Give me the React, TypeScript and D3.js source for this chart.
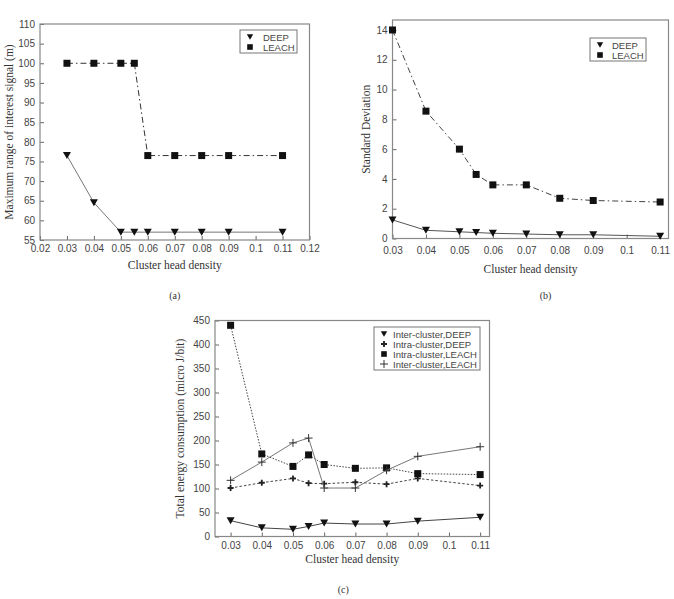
import React, { useEffect, useRef } from "react";
import * as d3 from "d3";

// cluster head density (x values shared by all panels)
const density = [0.03, 0.04, 0.05, 0.055, 0.06, 0.07, 0.08, 0.09, 0.11];

// (a) maximum range of interest signal
const rangeDeep = [76.5, 64.5, 57, 57, 57, 57, 57, 57, 57];
const rangeLeach = [100, 100, 100, 100, 76.5, 76.5, 76.5, 76.5, 76.5];

// (b) standard deviation
const stdDeep = [1.25, 0.55, 0.45, 0.4, 0.35, 0.3, 0.25, 0.25, 0.15];
const stdLeach = [14, 8.55, 6.0, 4.3, 3.6, 3.6, 2.7, 2.55, 2.45];

// (c) total energy consumption
const interDeep = [33, 18, 15, 21, 28, 26, 26, 32, 40];
const intraDeep = [101, 112, 121, 111, 110, 113, 109, 121, 106];
const intraLeach = [440, 172, 146, 170, 150, 142, 143, 131, 129];
const interLeach = [117, 155, 195, 205, 101, 101, 138, 167, 187];

const xTicksA = [0.02, 0.03, 0.04, 0.05, 0.06, 0.07, 0.08, 0.09, 0.1, 0.11, 0.12];
const xTicksBC = [0.03, 0.04, 0.05, 0.06, 0.07, 0.08, 0.09, 0.1, 0.11];
const yTicksA = d3.range(55, 111, 5);
const yTicksB = d3.range(0, 15, 2);
const yTicksC = d3.range(0, 451, 50);

const SANS = "Liberation Sans, Arial, sans-serif";
const SERIF = "Liberation Serif, Times New Roman, serif";

const drawMarker = (g, type, x, y, k = 1) => {
  if (type === "tri") {
    g.append("path")
      .attr("d", `M${x - 4 * k},${y - 3.5 * k}L${x + 4 * k},${y - 3.5 * k}L${x},${y + 3.5 * k}Z`)
      .attr("fill", "#111");
  } else if (type === "sq") {
    g.append("rect")
      .attr("x", x - 3.5 * k).attr("y", y - 3.5 * k)
      .attr("width", 7 * k).attr("height", 7 * k)
      .attr("fill", "#111");
  } else if (type === "star") {
    g.append("path")
      .attr("d", `M${x - 3},${y}H${x + 3}M${x},${y - 3}V${y + 3}`)
      .attr("stroke", "#222").attr("stroke-width", 1.8);
  } else if (type === "plus") {
    g.append("path")
      .attr("d", `M${x - 4},${y}H${x + 4}M${x},${y - 4}V${y + 4}`)
      .attr("stroke", "#333").attr("stroke-width", 1);
  }
};

const Panel = ({ box, xDomain, yDomain, xTicks, yTicks, xTickY, series, legend, yLabel, yLabelX, xLabelY, caption, captionY }) => {
  const ref = useRef();

  useEffect(() => {
    const g = d3.select(ref.current);
    g.selectAll("*").remove();
    const [left, top, right, bottom] = box;

    const x = d3.scaleLinear().domain(xDomain).range([left, right]);
    const y = d3.scaleLinear().domain(yDomain).range([bottom, top]);

    // ticks inside the box, matlab style
    g.append("g")
      .attr("transform", `translate(0,${bottom})`)
      .call(d3.axisBottom(x).tickValues(xTicks).tickSizeInner(-4).tickSizeOuter(0)
        .tickFormat((d) => String(+d.toFixed(3))))
      .call((a) => a.select(".domain").remove())
      .call((a) => a.selectAll("line").attr("stroke", "#666").attr("y1", 0).attr("y2", -4))
      .call((a) => a.selectAll("text").attr("y", xTickY).attr("font-family", SANS).attr("font-size", 10).attr("fill", "#444"));

    g.append("g")
      .attr("transform", `translate(${left},0)`)
      .call(d3.axisLeft(y).tickValues(yTicks).tickSizeInner(-4).tickSizeOuter(0))
      .call((a) => a.select(".domain").remove())
      .call((a) => a.selectAll("line").attr("stroke", "#666"))
      .call((a) => a.selectAll("text").attr("x", -5).attr("font-family", SANS).attr("font-size", 10).attr("fill", "#444"));

    g.append("rect")
      .attr("x", left).attr("y", top)
      .attr("width", right - left).attr("height", bottom - top)
      .attr("fill", "none").attr("stroke", "#888").attr("stroke-width", 1.2);

    const line = d3.line().x((d) => x(d[0])).y((d) => y(d[1]));

    series.forEach((s) => {
      const pts = density.map((d, i) => [d, s.values[i]]);
      g.append("path")
        .datum(pts)
        .attr("d", line)
        .attr("fill", "none")
        .attr("stroke", s.color)
        .attr("stroke-width", 1)
        .attr("stroke-dasharray", s.dash || null);
      pts.forEach((p) => drawMarker(g, s.marker, x(p[0]), y(p[1])));
    });

    // legend
    const [lx, ly, lw, lh] = legend.box;
    g.append("rect")
      .attr("x", lx).attr("y", ly).attr("width", lw).attr("height", lh)
      .attr("fill", "#fff").attr("stroke", "#777").attr("stroke-width", 1);
    series.forEach((s, i) => {
      const cy = ly + 7 + i * legend.step;
      drawMarker(g, s.marker, lx + 10, cy, 0.8);
      g.append("text")
        .attr("x", lx + legend.textX).attr("y", cy + 3.5)
        .attr("font-family", SANS).attr("font-size", 9.5).attr("fill", "#444")
        .text(s.name);
    });

    g.append("text")
      .attr("transform", `translate(${yLabelX},${(top + bottom) / 2}) rotate(-90)`)
      .attr("text-anchor", "middle")
      .attr("font-family", SERIF).attr("font-size", 11.5).attr("fill", "#333")
      .text(yLabel);

    g.append("text")
      .attr("x", (left + right) / 2).attr("y", xLabelY)
      .attr("text-anchor", "middle")
      .attr("font-family", SERIF).attr("font-size", 11.5).attr("fill", "#333")
      .text("Cluster head density");

    g.append("text")
      .attr("x", (left + right) / 2 + caption.dx).attr("y", captionY)
      .attr("text-anchor", "middle")
      .attr("font-family", SERIF).attr("font-size", 10).attr("fill", "#333")
      .text(caption.text);
  }, []);

  return <g ref={ref}></g>;
};

const App = () => {
  return (
    <svg width={674} height={599} style={{ position: "absolute", left: 0, top: 0, background: "#fff" }}>
      <Panel
        box={[40, 24, 309.5, 240]}
        xDomain={[0.02, 0.12]}
        yDomain={[55, 110]}
        xTicks={xTicksA}
        yTicks={yTicksA}
        xTickY={5}
        series={[
          { name: "DEEP", values: rangeDeep, marker: "tri", color: "#777" },
          { name: "LEACH", values: rangeLeach, marker: "sq", color: "#333", dash: "6,3,1.5,3" },
        ]}
        legend={{ box: [240, 30, 57, 23], step: 10, textX: 23 }}
        yLabel="Maximum range of interest signal (m)"
        yLabelX={13}
        xLabelY={269}
        caption={{ text: "(a)", dx: 0 }}
        captionY={299}
      />
      <Panel
        box={[392.5, 20, 668.5, 238.5]}
        xDomain={[0.03, 0.1125]}
        yDomain={[0, 14.67]}
        xTicks={xTicksBC}
        yTicks={yTicksB}
        xTickY={8}
        series={[
          { name: "DEEP", values: stdDeep, marker: "tri", color: "#555" },
          { name: "LEACH", values: stdLeach, marker: "sq", color: "#444", dash: "6,3,1.5,3" },
        ]}
        legend={{ box: [590, 38, 56, 23], step: 10, textX: 22 }}
        yLabel="Standard Deviation"
        yLabelX={370}
        xLabelY={273}
        caption={{ text: "(b)", dx: 15 }}
        captionY={299}
      />
      <Panel
        box={[215, 320.5, 489.5, 536.5]}
        xDomain={[0.025, 0.113]}
        yDomain={[0, 450]}
        xTicks={xTicksBC}
        yTicks={yTicksC}
        xTickY={5}
        series={[
          { name: "Inter-cluster,DEEP", values: interDeep, marker: "tri", color: "#444" },
          { name: "Intra-cluster,DEEP", values: intraDeep, marker: "star", color: "#444", dash: "2.5,2" },
          { name: "Intra-cluster,LEACH", values: intraLeach, marker: "sq", color: "#444", dash: "1.5,1.5" },
          { name: "Inter-cluster,LEACH", values: interLeach, marker: "plus", color: "#777" },
        ]}
        legend={{ box: [374, 327, 106, 43], step: 10, textX: 19 }}
        yLabel="Total energy consumption (micro J/bit)"
        yLabelX={184}
        xLabelY={563}
        caption={{ text: "(c)", dx: -9 }}
        captionY={593}
      />
    </svg>
  );
};

export default App;
